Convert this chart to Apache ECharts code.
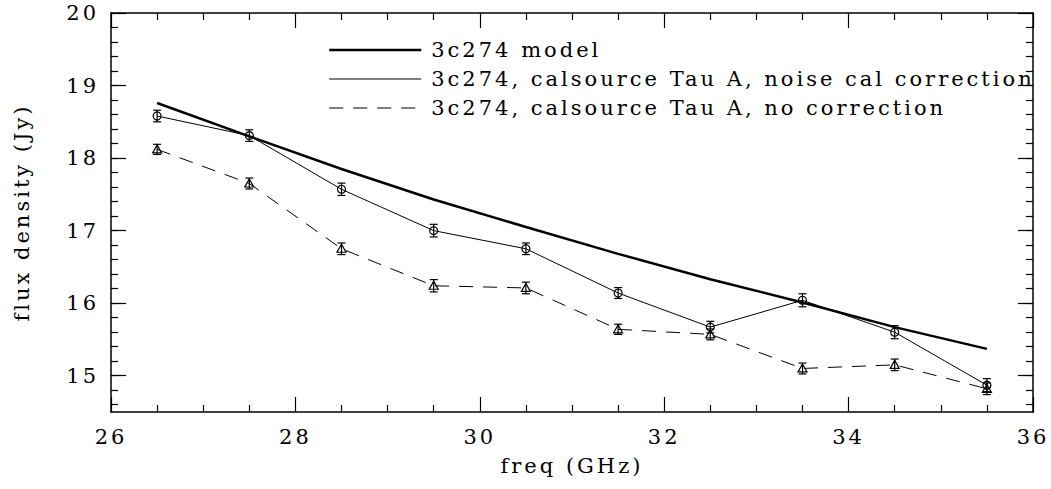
<!DOCTYPE html>
<html>
<head>
<meta charset="utf-8">
<script src="https://cdn.jsdelivr.net/npm/echarts@6/dist/echarts.min.js"></script>
<style>
html, body { margin: 0; padding: 0; background: #fff; }
#main { width: 1051px; height: 489px; }
/* the original font is set very wide, svg text takes css letter-spacing */
#main text { letter-spacing: 3px; }
</style>
</head>
<body>
<div id="main"></div>
<script>
var FONT = 'DejaVu Serif';

// data
var freq = [26.5, 27.5, 28.5, 29.5, 30.5, 31.5, 32.5, 33.5, 34.5, 35.5];
var model = [18.76, 18.30, 17.85, 17.43, 17.05, 16.68, 16.33, 16.01, 15.67, 15.37];
var noiseCal = [18.58, 18.31, 17.57, 17.00, 16.75, 16.14, 15.67, 16.04, 15.60, 14.87];
var noiseCalErr = [0.08, 0.08, 0.085, 0.087, 0.08, 0.075, 0.08, 0.09, 0.09, 0.09];
var noCorr = [18.12, 17.65, 16.75, 16.24, 16.21, 15.64, 15.57, 15.10, 15.15, 14.82];
var noCorrErr = [0.07, 0.075, 0.08, 0.085, 0.08, 0.07, 0.075, 0.075, 0.08, 0.08];

var names = ['3c274 model', '3c274, calsource Tau A, noise cal correction', '3c274, calsource Tau A, no correction'];

var yTicks = [15, 16, 17, 18, 19, 20];
var yMinor = [];
for (var v = 146; v <= 198; v += 2) yMinor.push(v / 10);

function pairs(ys) {
    return freq.map(function (x, i) { return [x, ys[i]]; });
}
function triples(ys, es) {
    return freq.map(function (x, i) { return [x, ys[i], es[i]]; });
}

// error bar with a hollow marker on top
function errBar(shape) {
    return function (params, api) {
        var x = api.value(0), y = api.value(1), e = api.value(2);
        var c = api.coord([x, y]);
        var hi = api.coord([x, y + e])[1];
        var lo = api.coord([x, y - e])[1];
        var w = 4;
        var st = { stroke: '#000', lineWidth: 1.2, fill: 'none' };
        var kids = [
            { type: 'line', shape: { x1: c[0], y1: hi, x2: c[0], y2: lo }, style: st },
            { type: 'line', shape: { x1: c[0] - w, y1: hi, x2: c[0] + w, y2: hi }, style: st },
            { type: 'line', shape: { x1: c[0] - w, y1: lo, x2: c[0] + w, y2: lo }, style: st }
        ];
        if (shape == 'circle') {
            kids.push({ type: 'circle', shape: { cx: c[0], cy: c[1], r: 4 }, style: st });
        } else {
            kids.push({ type: 'polygon', shape: { points: [[c[0], c[1] - 4.5], [c[0] + 4.5, c[1] + 3.5], [c[0] - 4.5, c[1] + 3.5]] }, style: st });
        }
        return { type: 'group', children: kids };
    };
}

function xAx(pos, labels) {
    return {
        type: 'value', position: pos, min: 26, max: 36, interval: 2,
        axisLine: { lineStyle: { color: '#000', width: 1.5 } },
        axisTick: { inside: true, length: 15, lineStyle: { color: '#000', width: 1.2 } },
        minorTick: { show: true, splitNumber: 4, length: 7, lineStyle: { color: '#000', width: 1.2 } },
        splitLine: { show: false },
        axisLabel: { show: labels, color: '#000', fontFamily: FONT, fontSize: 21, margin: 14 },
        name: labels ? 'freq (GHz)' : '',
        nameLocation: 'middle', nameGap: 43,
        nameTextStyle: { color: '#000', fontFamily: FONT, fontSize: 21 }
    };
}
function yAx(pos, ticks, len, labels, line) {
    return {
        type: 'value', position: pos, min: 14.5, max: 20,
        axisLine: { show: line, lineStyle: { color: '#000', width: 1.5 } },
        axisTick: { inside: true, length: len, customValues: ticks, lineStyle: { color: '#000', width: 1.2 } },
        splitLine: { show: false },
        axisLabel: { show: labels, customValues: ticks, color: '#000', fontFamily: FONT, fontSize: 21, margin: 12 },
        name: labels ? 'flux density (Jy)' : '',
        nameLocation: 'middle', nameGap: 79, nameRotate: 90,
        nameTextStyle: { color: '#000', fontFamily: FONT, fontSize: 21 }
    };
}

var myChart = echarts.init(document.getElementById('main'), null, { renderer: 'svg' });

myChart.setOption({
    animation: false,
    backgroundColor: '#fff',
    grid: { left: 111, right: 18, top: 13, bottom: 77 },
    legend: {
        data: [
            { name: names[0], lineStyle: { width: 2.5 } },
            { name: names[1], lineStyle: { width: 1 } },
            { name: names[2], lineStyle: { width: 1 } }
        ],
        orient: 'vertical',
        left: 323, top: 34,
        itemWidth: 92, itemHeight: 14, itemGap: 7,
        itemStyle: { opacity: 0 },
        textStyle: { color: '#000', fontFamily: FONT, fontSize: 21, lineHeight: 22, padding: [0, 0, 0, 5] }
    },
    xAxis: [xAx('bottom', true), xAx('top', false)],
    yAxis: [
        yAx('left', yTicks, 15, true, true),
        yAx('left', yMinor, 7, false, false),
        yAx('right', yTicks, 15, false, true),
        yAx('right', yMinor, 7, false, false)
    ],
    series: [
        {
            name: names[0], type: 'line', data: pairs(model), symbol: 'none',
            lineStyle: { color: '#000', width: 2.5 }, itemStyle: { color: '#000' }
        },
        {
            name: names[1], type: 'line', data: pairs(noiseCal), symbol: 'none',
            lineStyle: { color: '#000', width: 1 }, itemStyle: { color: '#000' }
        },
        {
            name: names[2], type: 'line', data: pairs(noCorr), symbol: 'none',
            lineStyle: { color: '#000', width: 1, type: [14, 10] }, itemStyle: { color: '#000' }
        },
        {
            name: 'noise cal points', type: 'custom', renderItem: errBar('circle'),
            data: triples(noiseCal, noiseCalErr), encode: { x: 0, y: 1 }, z: 5
        },
        {
            name: 'no correction points', type: 'custom', renderItem: errBar('triangle'),
            data: triples(noCorr, noCorrErr), encode: { x: 0, y: 1 }, z: 5
        }
    ]
});
</script>
</body>
</html>
